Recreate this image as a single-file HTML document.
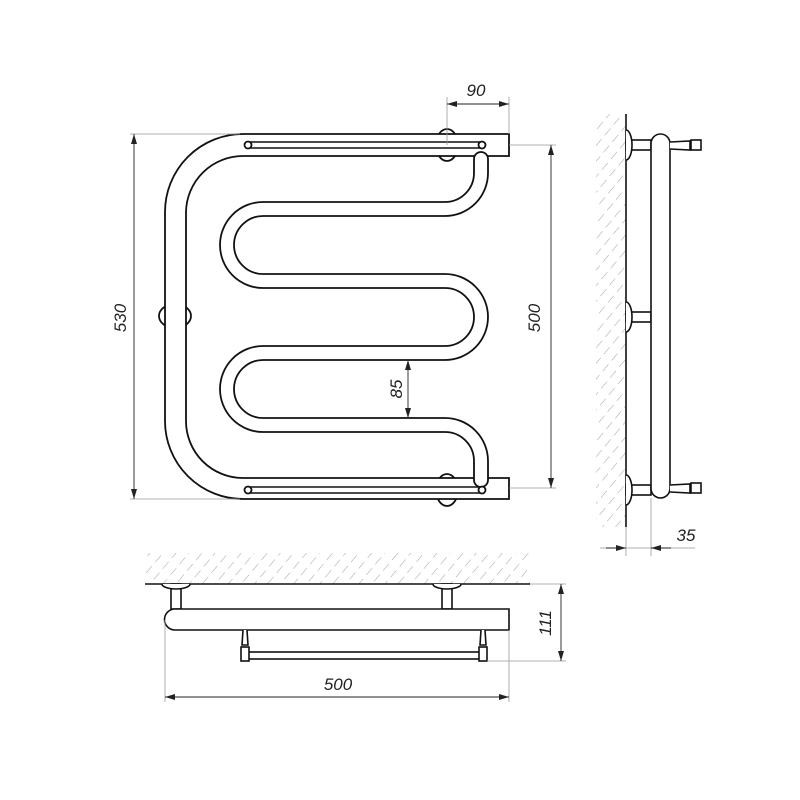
<!DOCTYPE html>
<html><head><meta charset="utf-8"><style>
html,body{margin:0;padding:0;background:#fff;width:800px;height:800px;overflow:hidden}
svg{display:block}
.t{font-family:"Liberation Sans",sans-serif;font-style:italic;font-size:17px;fill:#222}
</style></head><body>
<svg width="800" height="800" viewBox="0 0 800 800" xmlns="http://www.w3.org/2000/svg">
<defs>
<pattern id="h" width="10" height="14" patternUnits="userSpaceOnUse" patternTransform="rotate(40)">
<line x1="0" y1="0" x2="0" y2="9" stroke="#888" stroke-width="0.8"/>
</pattern>
<marker id="a" viewBox="0 0 10 6" refX="10" refY="3" markerWidth="10" markerHeight="6" orient="auto-start-reverse" markerUnits="userSpaceOnUse"><path d="M0,0 L10,3 L0,6 z" fill="#222"/></marker>
</defs>
<g fill="none" stroke="#111" stroke-width="1.8">
<ellipse cx="447" cy="145" rx="11" ry="16" fill="#fff"/>
<ellipse cx="447" cy="490" rx="11" ry="16" fill="#fff"/>
<ellipse cx="175" cy="316" rx="16" ry="12" fill="#fff"/>
<path d="M509,134 L243,134 A78,78 0 0 0 165,212 L165,421 A78,78 0 0 0 243,499 L509,499 L509,478 L243,478 A57,57 0 0 1 186,421 L186,212 A57,57 0 0 1 243,156 L509,156 Z" fill="#fff"/>
<path d="M474,159 L474,173 A29,29 0 0 1 445,202 L263,202 A43,43 0 0 0 263,288 L445,288 A29,29 0 0 1 445,346 L263,346 A43,43 0 0 0 263,432 L445,432 A29,29 0 0 1 474,461 L474,480 A7,7 0 0 0 488,480 L488,461 A43,43 0 0 0 445,418 L263,418 A29,29 0 0 1 263,360 L445,360 A43,43 0 0 0 445,274 L263,274 A29,29 0 0 1 263,216 L445,216 A43,43 0 0 0 488,173 L488,159 A7,7 0 0 0 474,159 Z" fill="#fff"/>
<path d="M248,142 L482,142 M248,148 L482,148" stroke-width="1.5"/>
<path d="M248,487 L482,487 M248,493 L482,493" stroke-width="1.5"/>
<circle cx="248" cy="145" r="3.5" fill="#fff"/><circle cx="482" cy="145" r="3.5" fill="#fff"/>
<circle cx="248" cy="490" r="3.5" fill="#fff"/><circle cx="482" cy="490" r="3.5" fill="#fff"/>
</g>
<g stroke="#999" stroke-width="0.8" fill="none">
<line x1="130" y1="134" x2="240" y2="134"/><line x1="130" y1="499" x2="240" y2="499"/>
<line x1="509" y1="145" x2="556" y2="145"/><line x1="509" y1="488" x2="556" y2="488"/>
<line x1="447" y1="97" x2="447" y2="145"/><line x1="509" y1="97" x2="509" y2="134"/>
</g>
<g stroke="#222" stroke-width="0.9">
<line x1="134" y1="134" x2="134" y2="499" marker-start="url(#a)" marker-end="url(#a)"/>
<line x1="551" y1="145" x2="551" y2="488" marker-start="url(#a)" marker-end="url(#a)"/>
<line x1="447" y1="104" x2="509" y2="104" marker-start="url(#a)" marker-end="url(#a)"/>
<line x1="408" y1="360" x2="408" y2="418" marker-start="url(#a)" marker-end="url(#a)"/>
</g>
<text class="t" transform="translate(126,318) rotate(-90)" text-anchor="middle">530</text>
<text class="t" transform="translate(540,318) rotate(-90)" text-anchor="middle">500</text>
<text class="t" transform="translate(402,389) rotate(-90)" text-anchor="middle">85</text>
<text class="t" x="476" y="96" text-anchor="middle">90</text>

<rect x="596" y="114" width="30" height="413" fill="url(#h)"/>
<g fill="#fff" stroke="#111" stroke-width="1.6">
<line x1="626" y1="114" x2="626" y2="527"/>
<rect x="626" y="140" width="25" height="10"/><rect x="626" y="312" width="25" height="10"/><rect x="626" y="485" width="25" height="10"/>
<path d="M626,130 A6,15 0 0 1 626,160"/><path d="M626,302 A6,15 0 0 1 626,332"/><path d="M626,475 A6,15 0 0 1 626,505"/>
<rect x="651" y="134" width="19" height="364" rx="9.5"/>
<path d="M670,142 L690,141 L690,150 L670,149"/><rect x="691" y="140" width="10" height="10"/>
<path d="M670,485 L690,484 L690,493 L670,492"/><rect x="691" y="483" width="10" height="10"/>
</g>
<g stroke="#999" stroke-width="0.8"><line x1="626" y1="527" x2="626" y2="556"/><line x1="651" y1="498" x2="651" y2="556"/><line x1="600" y1="548" x2="695" y2="548"/></g>
<g stroke="#222" stroke-width="0.9"><line x1="606" y1="548" x2="626" y2="548" marker-end="url(#a)"/><line x1="671" y1="548" x2="651" y2="548" marker-end="url(#a)"/></g>
<text class="t" x="686" y="541" text-anchor="middle">35</text>

<rect x="145" y="553" width="385" height="31" fill="url(#h)"/>
<g fill="#fff" stroke="#111" stroke-width="1.6">
<line x1="145" y1="584" x2="530" y2="584"/>
<rect x="171" y="584" width="10" height="25"/><rect x="442" y="584" width="10" height="25"/>
<path d="M162,584 A14,5 0 0 0 190,584"/><path d="M433,584 A14,5 0 0 0 461,584"/>
<path d="M509,609 L175,609 A10.5,10.5 0 0 0 175,630 L509,630 Z"/>
<path d="M243,630 L242,645 L248,645 L247,630"/><path d="M481,630 L480,645 L486,645 L485,630"/>
<rect x="247" y="652" width="234" height="7"/>
<rect x="241" y="647" width="8" height="14"/><rect x="479" y="647" width="8" height="14"/>
</g>
<g stroke="#999" stroke-width="0.8"><line x1="165" y1="620" x2="165" y2="702"/><line x1="509" y1="630" x2="509" y2="702"/><line x1="530" y1="584" x2="566" y2="584"/><line x1="487" y1="661" x2="566" y2="661"/></g>
<g stroke="#222" stroke-width="0.9">
<line x1="165" y1="697" x2="509" y2="697" marker-start="url(#a)" marker-end="url(#a)"/>
<line x1="561" y1="584" x2="561" y2="661" marker-start="url(#a)" marker-end="url(#a)"/>
</g>
<text class="t" x="338" y="690" text-anchor="middle">500</text>
<text class="t" transform="translate(551,623) rotate(-90)" text-anchor="middle">111</text>
</svg>
</body></html>
